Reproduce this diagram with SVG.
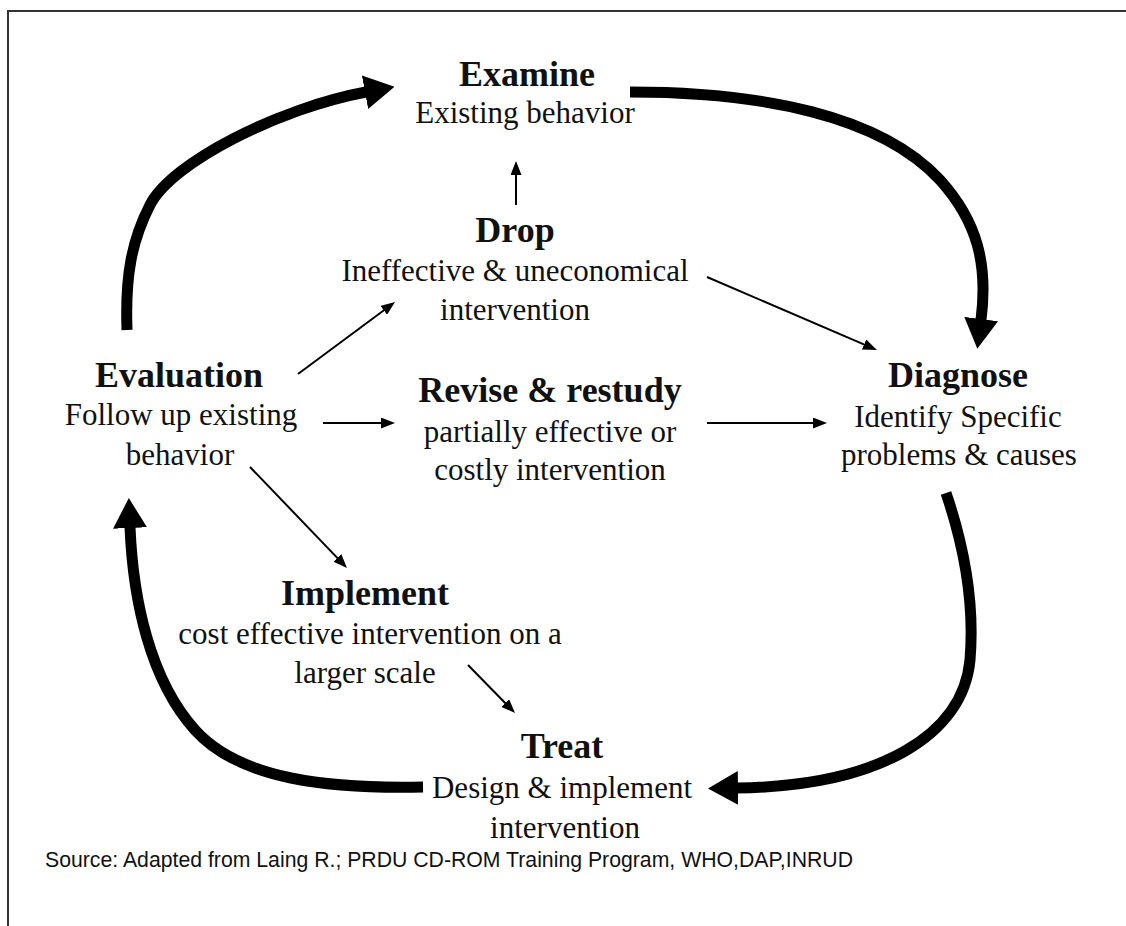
<svg xmlns="http://www.w3.org/2000/svg" width="1126" height="926" viewBox="0 0 1126 926">
<style>
  .t { font-family: "Liberation Serif", "Times New Roman", serif; font-weight: bold; font-size: 36px; fill: #111; text-anchor: middle; }
  .s { font-family: "Liberation Serif", "Times New Roman", serif; font-size: 31px; fill: #111; text-anchor: middle; }
  .src { font-family: "Liberation Sans", Arial, sans-serif; font-size: 22px; fill: #111; }
  .heavy { fill: none; stroke: #000; stroke-width: 11; marker-end: url(#bigHead); }
  .thin { fill: none; stroke: #000; stroke-width: 2; marker-end: url(#smallHead); }
  .frame { stroke: #333; stroke-width: 2; fill: none; }
</style>
<defs>
  <marker id="bigHead" markerUnits="userSpaceOnUse" viewBox="0 0 30 34" markerWidth="30" markerHeight="34" refX="1" refY="17" orient="auto">
    <path d="M0,0 L30,17 L0,34 z" fill="#000"/>
  </marker>
  <marker id="smallHead" markerUnits="userSpaceOnUse" viewBox="0 0 14 11" markerWidth="14" markerHeight="11" refX="1" refY="5.5" orient="auto">
    <path d="M0,0 L14,5.5 L0,11 z" fill="#000"/>
  </marker>
</defs>
<rect width="1126" height="926" fill="#fff"/>
<path class="frame" d="M8,926 L8,11 L1126,11"/>

<g id="connectors">
  <path class="heavy" d="M127,330 C125,275 132,240 150,205 C172,162 280,108 366,92"/>
  <path class="heavy" d="M630,92 C760,92 880,115 940,180 C978,222 988,265 981,320"/>
  <path class="heavy" d="M946,493 C962,540 975,600 970,660 C963,735 880,786 737,788"/>
  <path class="heavy" d="M423,787 C330,789 240,780 195,730 C150,680 133,600 130,527"/>
  <path class="thin" d="M516,205 L516,174"/>
  <path class="thin" d="M298,374 L384.6,309.7"/>
  <path class="thin" d="M323,423 L382,423"/>
  <path class="thin" d="M707,277 L865,344.9"/>
  <path class="thin" d="M707,423 L814,423"/>
  <path class="thin" d="M250,467 L338,558.6"/>
  <path class="thin" d="M468,665 L505.9,703.7"/>
</g>

<g id="examine">
  <text class="t" x="527" y="86">Examine</text>
  <text class="s" x="525" y="123">Existing behavior</text>
</g>
<g id="drop">
  <text class="t" x="515" y="242">Drop</text>
  <text class="s" x="515" y="281">Ineffective &amp; uneconomical</text>
  <text class="s" x="515" y="320">intervention</text>
</g>
<g id="evaluation">
  <text class="t" x="179" y="387">Evaluation</text>
  <text class="s" x="181" y="425">Follow up existing</text>
  <text class="s" x="180" y="465">behavior</text>
</g>
<g id="revise">
  <text class="t" x="550" y="402">Revise &amp; restudy</text>
  <text class="s" x="550" y="442">partially effective or</text>
  <text class="s" x="550" y="480">costly intervention</text>
</g>
<g id="diagnose">
  <text class="t" x="958" y="387">Diagnose</text>
  <text class="s" x="958" y="427">Identify Specific</text>
  <text class="s" x="959" y="465">problems &amp; causes</text>
</g>
<g id="implement">
  <text class="t" x="365" y="605">Implement</text>
  <text class="s" x="370" y="644">cost effective intervention on a</text>
  <text class="s" x="365" y="683">larger scale</text>
</g>
<g id="treat">
  <text class="t" x="562" y="758">Treat</text>
  <text class="s" x="562" y="798">Design &amp; implement</text>
  <text class="s" x="565" y="838">intervention</text>
</g>
<text class="src" x="45" y="867" textLength="808" lengthAdjust="spacingAndGlyphs">Source: Adapted from Laing R.; PRDU CD-ROM Training Program, WHO,DAP,INRUD</text>
</svg>
